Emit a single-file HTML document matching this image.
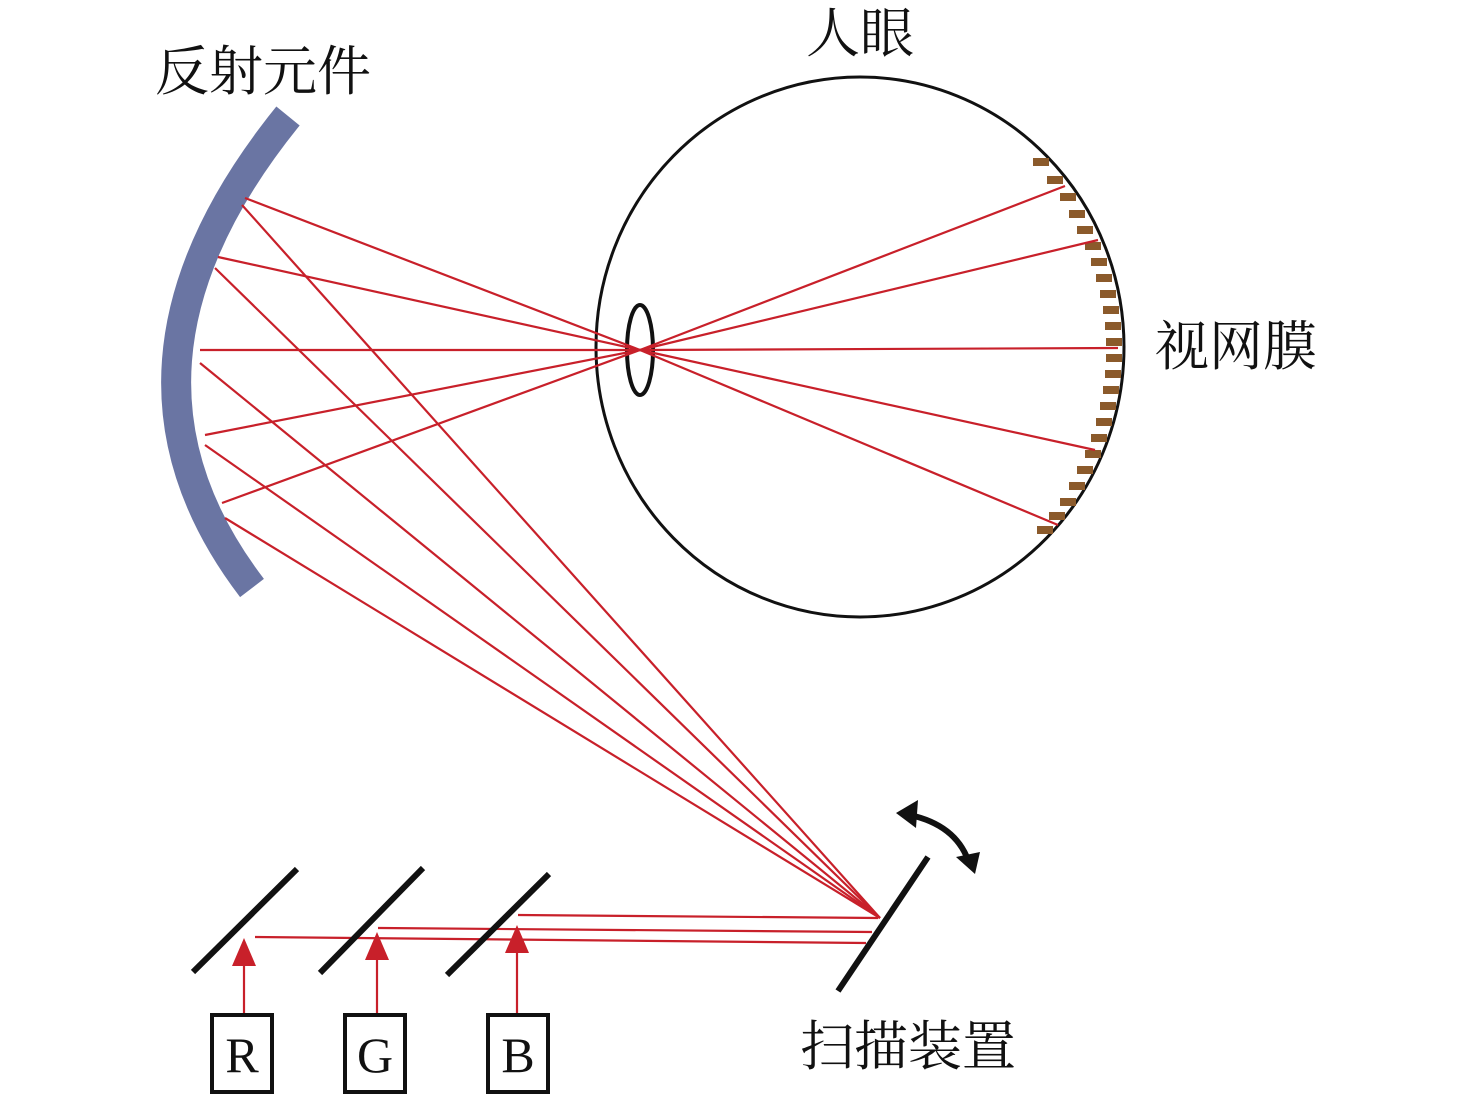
<!DOCTYPE html>
<html><head><meta charset="utf-8"><style>
html,body{margin:0;padding:0;background:#fff;}
svg{display:block;}
text{font-family:"Liberation Serif","Noto Serif CJK SC",serif;fill:#111;}
</style></head><body>
<svg width="1476" height="1102" viewBox="0 0 1476 1102" xmlns="http://www.w3.org/2000/svg">
<!-- labels -->
<text x="155" y="90" font-size="54">反射元件</text>
<text x="806" y="52" font-size="54">人眼</text>
<text x="1155" y="365" font-size="54">视网膜</text>
<text x="800" y="1065" font-size="54">扫描装置</text>

<!-- reflector -->
<path d="M288,116 Q84,368 252,588" fill="none" stroke="#6a75a3" stroke-width="30"/>

<!-- eye -->
<ellipse cx="860" cy="347" rx="264" ry="270" fill="none" stroke="#111" stroke-width="3"/>
<g fill="#8b5a2b">
<rect x="1033" y="158" width="16" height="8"/>
<rect x="1047" y="176" width="16" height="8"/>
<rect x="1060" y="193" width="16" height="8"/>
<rect x="1069" y="210" width="16" height="8"/>
<rect x="1077" y="226" width="16" height="8"/>
<rect x="1085" y="242" width="16" height="8"/>
<rect x="1091" y="258" width="16" height="8"/>
<rect x="1096" y="274" width="16" height="8"/>
<rect x="1100" y="290" width="16" height="8"/>
<rect x="1103" y="306" width="16" height="8"/>
<rect x="1105" y="322" width="16" height="8"/>
<rect x="1106" y="338" width="16" height="8"/>
<rect x="1106" y="354" width="16" height="8"/>
<rect x="1105" y="370" width="16" height="8"/>
<rect x="1103" y="386" width="16" height="8"/>
<rect x="1100" y="402" width="16" height="8"/>
<rect x="1096" y="418" width="16" height="8"/>
<rect x="1091" y="434" width="16" height="8"/>
<rect x="1085" y="450" width="16" height="8"/>
<rect x="1077" y="466" width="16" height="8"/>
<rect x="1069" y="482" width="16" height="8"/>
<rect x="1060" y="498" width="16" height="8"/>
<rect x="1049" y="512" width="16" height="8"/>
<rect x="1037" y="526" width="16" height="8"/>
</g>
<ellipse cx="640" cy="350" rx="13" ry="45" fill="none" stroke="#111" stroke-width="4"/>

<!-- rays -->
<g stroke="#c8202a" stroke-width="2.2" fill="none">
<line x1="245" y1="198" x2="640" y2="350"/>
<line x1="218" y1="257" x2="640" y2="350"/>
<line x1="200" y1="350" x2="640" y2="350"/>
<line x1="205" y1="435" x2="640" y2="350"/>
<line x1="222" y1="503" x2="640" y2="350"/>
<line x1="640" y1="350" x2="1065" y2="186"/>
<line x1="640" y1="350" x2="1098" y2="240"/>
<line x1="640" y1="350" x2="1118" y2="348"/>
<line x1="640" y1="350" x2="1095" y2="450"/>
<line x1="640" y1="350" x2="1058" y2="525"/>
<line x1="242" y1="205" x2="880" y2="918"/>
<line x1="215" y1="268" x2="880" y2="918"/>
<line x1="200" y1="363" x2="880" y2="918"/>
<line x1="205" y1="445" x2="880" y2="918"/>
<line x1="225" y1="518" x2="880" y2="918"/>
<line x1="518" y1="915" x2="878" y2="918"/>
<line x1="378" y1="928" x2="872" y2="932"/>
<line x1="255" y1="937" x2="866" y2="943"/>
<line x1="244" y1="1015" x2="244" y2="960"/>
<line x1="377" y1="1015" x2="377" y2="955"/>
<line x1="517" y1="1015" x2="517" y2="950"/>
</g>
<g fill="#c8202a">
<polygon points="244,938 232,966 256,966"/>
<polygon points="377,932 365,960 389,960"/>
<polygon points="517,925 505,953 529,953"/>
</g>

<!-- splitters and scanner -->
<g stroke="#111" stroke-width="6" stroke-linecap="butt">
<line x1="193" y1="972" x2="297" y2="869"/>
<line x1="320" y1="973" x2="423" y2="868"/>
<line x1="447" y1="975" x2="549" y2="874"/>
<line x1="838" y1="991" x2="928" y2="857"/>
</g>
<path d="M910,815 Q955,825 968,860" fill="none" stroke="#111" stroke-width="6"/>
<polygon points="896,813 918,800 916,828" fill="#111"/>
<polygon points="975,874 956,857 980,852" fill="#111"/>

<!-- boxes -->
<g fill="#fff" stroke="#111" stroke-width="4">
<rect x="212" y="1015" width="60" height="77"/>
<rect x="345" y="1015" width="60" height="77"/>
<rect x="488" y="1015" width="60" height="77"/>
</g>
<text x="242" y="1072" font-size="50" text-anchor="middle">R</text>
<text x="375" y="1072" font-size="50" text-anchor="middle">G</text>
<text x="518" y="1072" font-size="50" text-anchor="middle">B</text>
</svg>
</body></html>
